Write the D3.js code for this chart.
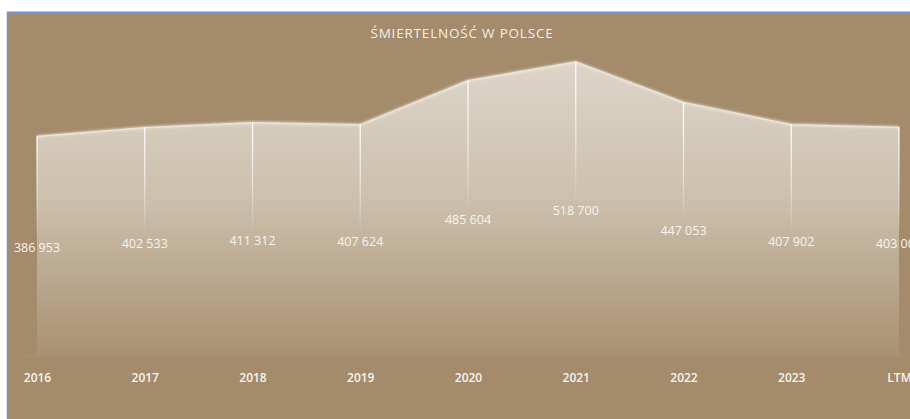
<!DOCTYPE html>
<html>
<head>
<meta charset="utf-8">
<script src="https://cdn.jsdelivr.net/npm/d3@7"></script>
<style>
  html, body { margin: 0; padding: 0; background: #ffffff; }
  svg { display: block; }
</style>
</head>
<body>
<div id="chart"></div>
<script>
// categories and values
var years = ["2016", "2017", "2018", "2019", "2020", "2021", "2022", "2023", "LTM"];
var deaths = [386953, 402533, 411312, 407624, 485604, 518700, 447053, 407902, 403000];
var labels = ["386 953", "402 533", "411 312", "407 624", "485 604", "518 700", "447 053", "407 902", "403 000"];

var width = 910, height = 419;
var bg = "#a38b6c";

var svg = d3.select("#chart")
    .append("svg")
    .attr("width", width)
    .attr("height", height);

// frame: white strip on top, blue border line, brown panel
svg.append("rect")
    .attr("x", 7).attr("y", 12)
    .attr("width", width - 7).attr("height", height - 12)
    .attr("fill", bg);
svg.append("line")
    .attr("x1", 7).attr("x2", width).attr("y1", 12.5).attr("y2", 12.5)
    .attr("stroke", "#6f93d3").attr("stroke-width", 2);
svg.append("line")
    .attr("x1", 7.5).attr("x2", 7.5).attr("y1", 12).attr("y2", height)
    .attr("stroke", "#6f93d3").attr("stroke-width", 1.5);

var data = years.map(function(y, i) { return {year: y, value: deaths[i], label: labels[i]}; });

// scales
var x = d3.scalePoint()
    .domain(years)
    .range([37, 899]);

var y = d3.scaleLinear()
    .domain([0, 600000])
    .range([355, 16]);

function labelY(d) { return (y(d.value) + y(0)) / 2 + 2; }

var defs = svg.append("defs");

var areaGrad = defs.append("linearGradient")
    .attr("id", "areaGrad")
    .attr("gradientUnits", "userSpaceOnUse")
    .attr("x1", 0).attr("x2", 0)
    .attr("y1", y(518700)).attr("y2", y(0));
areaGrad.append("stop").attr("offset", "0%").attr("stop-color", "#ddd5c9");
areaGrad.append("stop").attr("offset", "45%").attr("stop-color", "#cdc1ae");
areaGrad.append("stop").attr("offset", "100%").attr("stop-color", "#a99173");

var glow = defs.append("filter").attr("id", "glow")
    .attr("x", "-5%").attr("y", "-20%").attr("width", "110%").attr("height", "140%");
glow.append("feGaussianBlur").attr("stdDeviation", 1.2);

// area
var area = d3.area()
    .x(function(d) { return x(d.year); })
    .y0(y(0))
    .y1(function(d) { return y(d.value); });

svg.append("path")
    .datum(data)
    .attr("d", area)
    .attr("fill", "url(#areaGrad)");

// faint axis line
svg.append("line")
    .attr("x1", 22).attr("x2", 905)
    .attr("y1", y(0) + 1.5).attr("y2", y(0) + 1.5)
    .attr("stroke", "#aa9374").attr("stroke-width", 1);

// top edge line with soft glow
var line = d3.line()
    .x(function(d) { return x(d.year); })
    .y(function(d) { return y(d.value); });

svg.append("path")
    .datum(data)
    .attr("d", line)
    .attr("fill", "none")
    .attr("stroke", "#f3eee6")
    .attr("stroke-width", 3)
    .attr("opacity", 0.6)
    .attr("filter", "url(#glow)");
svg.append("path")
    .datum(data)
    .attr("d", line)
    .attr("fill", "none")
    .attr("stroke", "#ebe4da")
    .attr("stroke-width", 1.2);

// drop lines, fading out before the value label
data.forEach(function(d, i) {
    var g = defs.append("linearGradient")
        .attr("id", "drop" + i)
        .attr("gradientUnits", "userSpaceOnUse")
        .attr("x1", 0).attr("x2", 0)
        .attr("y1", y(d.value)).attr("y2", labelY(d) - 8);
    g.append("stop").attr("offset", "0%").attr("stop-color", "#ffffff").attr("stop-opacity", 0.95);
    g.append("stop").attr("offset", "55%").attr("stop-color", "#ffffff").attr("stop-opacity", 0.55);
    g.append("stop").attr("offset", "100%").attr("stop-color", "#ffffff").attr("stop-opacity", 0);
});

svg.selectAll(".drop")
    .data(data)
    .enter()
    .append("line")
    .attr("class", "drop")
    .attr("x1", function(d) { return x(d.year); })
    .attr("x2", function(d) { return x(d.year); })
    .attr("y1", function(d) { return y(d.value); })
    .attr("y2", function(d) { return labelY(d) - 8; })
    .attr("stroke", function(d, i) { return "url(#drop" + i + ")"; })
    .attr("stroke-width", 1.3);

// value labels in the middle of each column
svg.selectAll(".val")
    .data(data)
    .enter()
    .append("text")
    .attr("class", "val")
    .attr("x", function(d) { return x(d.year); })
    .attr("y", labelY)
    .attr("dy", "0.35em")
    .attr("text-anchor", "middle")
    .style("font-family", "'Open Sans', 'Liberation Sans', sans-serif")
    .style("font-size", "12.5px")
    .attr("fill", "#f7f4ef")
    .text(function(d) { return d.label; });

// x axis labels
var xAxis = svg.append("g")
    .attr("transform", "translate(0," + 378 + ")")
    .call(d3.axisBottom(x).tickSize(0).tickPadding(0));
xAxis.select(".domain").remove();
xAxis.selectAll("text")
    .attr("dy", "0.35em")
    .attr("y", 0)
    .attr("fill", "#f7f4ef")
    .style("font-family", "'Open Sans', 'Liberation Sans', sans-serif")
    .style("font-size", "12px")
    .style("font-weight", "600");

// title
svg.append("text")
    .attr("x", 462)
    .attr("y", 33)
    .attr("dy", "0.35em")
    .attr("text-anchor", "middle")
    .attr("fill", "#f4f0ea")
    .style("font-family", "'Open Sans', sans-serif")
    .style("font-size", "13.5px")
    .style("font-weight", "500")
    .style("letter-spacing", "0.8px")
    .text("ŚMIERTELNOŚĆ W POLSCE");
</script>
</body>
</html>
